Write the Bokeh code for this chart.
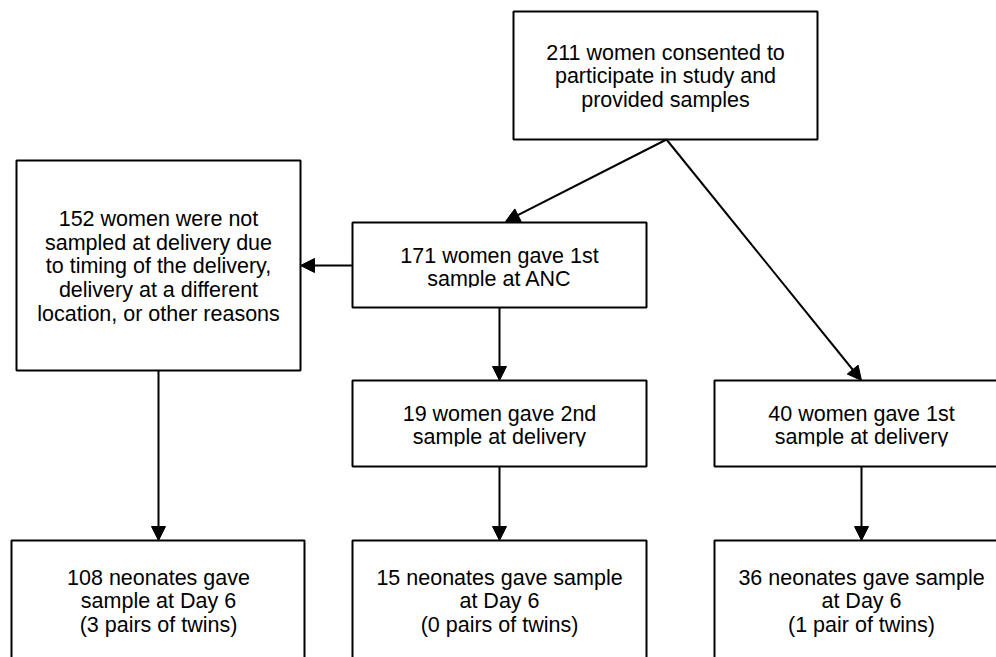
from bokeh.plotting import figure
from bokeh.models import Arrow, NormalHead, ColumnDataSource, Range1d
from bokeh.embed import file_html
from bokeh.resources import INLINE
from bokeh.core.properties import value

# ---- content (flowchart counts and texts) ----
node_ids = ["consented", "anc", "not_sampled", "second", "first_del", "neo_a", "neo_b", "neo_c"]
node_labels = [
    "211 women consented to\nparticipate in study and\nprovided samples",
    "171 women gave 1st\nsample at ANC",
    "152 women were not\nsampled at delivery due\nto timing of the delivery,\ndelivery at a different\nlocation, or other reasons",
    "19 women gave 2nd\nsample at delivery",
    "40 women gave 1st\nsample at delivery",
    "108 neonates gave\nsample at Day 6\n(3 pairs of twins)",
    "15 neonates gave sample\nat Day 6\n(0 pairs of twins)",
    "36 neonates gave sample\nat Day 6\n(1 pair of twins)",
]
edges_from = ["consented", "consented", "anc", "anc", "not_sampled", "second", "first_del"]
edges_to = ["anc", "first_del", "not_sampled", "second", "neo_a", "neo_b", "neo_c"]

# ---- layout (page pixel coordinates) ----
box_left = [513, 352, 16, 352, 714, 11, 352, 714]
box_right = [817, 646, 300, 646, 1008, 304, 646, 1008]
box_top = [11, 222, 160, 380, 380, 540, 540, 540]
box_bottom = [139, 307, 370, 466, 466, 720, 720, 720]
text_x = [665, 499, 158, 499, 861, 158, 499, 861]
text_y = [76, 267, 266, 425, 425, 601, 601, 601]

# boxes whose text frame clips the last line's descenders (as in the original)
clipped = [1, 3, 4]
clip_inset = 20

# arrow anchor points (start -> end)
arr_x0 = [666, 666, 352, 499, 158, 499, 861]
arr_y0 = [139, 139, 265, 307, 370, 466, 466]
arr_x1 = [505, 861, 300, 499, 158, 499, 861]
arr_y1 = [221, 380, 265, 380, 540, 540, 540]

W, H = 996, 657
p = figure(width=W, height=H, output_backend="svg", toolbar_location=None,
           x_range=Range1d(0, W), y_range=Range1d(H, 0),
           min_border=0, background_fill_color="white", border_fill_color="white")
p.axis.visible = False
p.grid.visible = False
p.outline_line_color = None

boxes = ColumnDataSource(dict(left=box_left, right=box_right, top=box_top, bottom=box_bottom))
p.quad(left="left", right="right", top="top", bottom="bottom", source=boxes,
       fill_color="white", line_color="black", line_width=2)

texts = ColumnDataSource(dict(x=text_x, y=text_y, text=node_labels))
p.text(x="x", y="y", text="text", source=texts, text_align="center", text_baseline="middle",
       text_font=value("Liberation Sans"), text_font_size="21.5px", text_line_height=0.98,
       text_color="black")

# text-frame clipping masks (white, inside the box borders)
masks = ColumnDataSource(dict(
    left=[box_left[i] + 2 for i in clipped],
    right=[box_right[i] - 2 for i in clipped],
    top=[box_bottom[i] - clip_inset for i in clipped],
    bottom=[box_bottom[i] - 2 for i in clipped],
))
p.quad(left="left", right="right", top="top", bottom="bottom", source=masks,
       fill_color="white", line_color=None)

arrows = ColumnDataSource(dict(x0=arr_x0, y0=arr_y0, x1=arr_x1, y1=arr_y1))
p.add_layout(Arrow(end=NormalHead(size=14, fill_color="black", line_color="black", line_width=1),
                   x_start="x0", y_start="y0", x_end="x1", y_end="y1", source=arrows,
                   line_color="black", line_width=2))

open("out.html", "w").write(file_html(p, INLINE))
